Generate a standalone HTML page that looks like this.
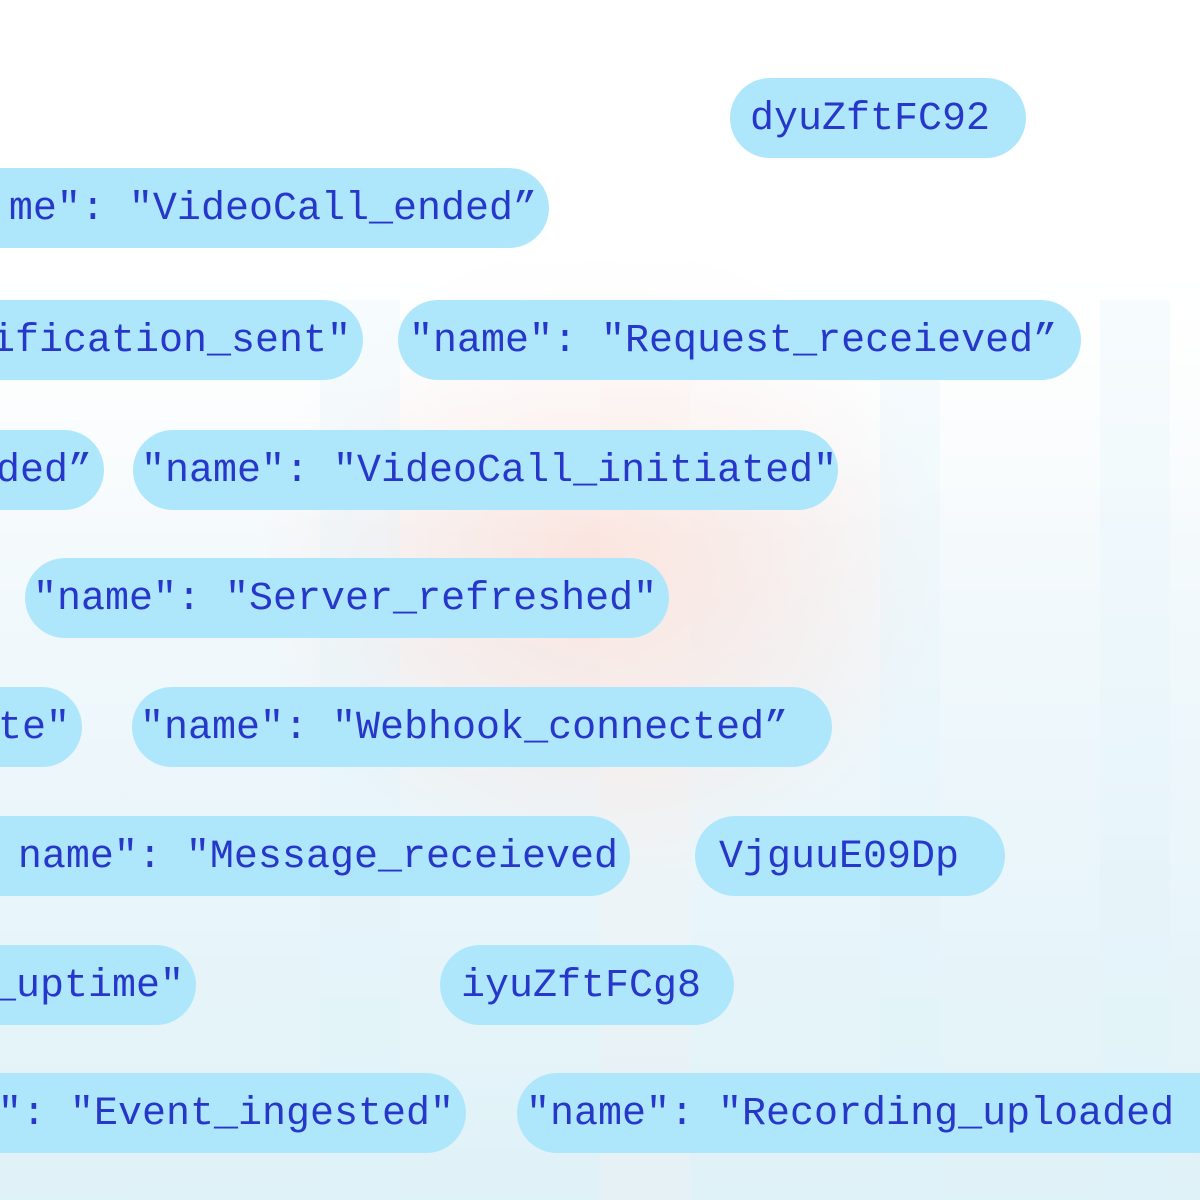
<!DOCTYPE html>
<html><head><meta charset="utf-8"><style>
html,body{margin:0;padding:0}
body{width:1200px;height:1200px;position:relative;overflow:hidden;background:#fff;font-family:"Liberation Mono","DejaVu Sans Mono",monospace}
.bg{position:absolute;inset:0;background:
linear-gradient(180deg,rgba(255,255,255,1) 0%,rgba(255,255,255,0.9) 18%,rgba(255,255,255,0) 45%),
radial-gradient(ellipse 500px 450px at 600px 560px,rgba(252,222,214,0.8),rgba(252,222,214,0) 70%),
linear-gradient(180deg,#fff 20%,#eef7fb 60%,#dff2f8 100%);}
.band{position:absolute;top:300px;bottom:0;background:rgba(225,243,250,0.25)}
.p{position:absolute;height:80px;border-radius:40px;background:#aee7fb;color:#2637c9;font-size:40px;line-height:80px;white-space:pre;display:flex;align-items:center;box-sizing:border-box;padding-top:3px}
.l{padding-left:14px}
.r{justify-content:flex-end;padding-right:12px;overflow:hidden}
</style></head><body>
<div class="bg"></div>
<div class="band" style="left:320px;width:80px"></div>
<div class="band" style="left:600px;width:90px;background:rgba(255,240,236,0.2)"></div>
<div class="band" style="left:880px;width:60px"></div>
<div class="band" style="left:1100px;width:70px"></div>

<div class="p l" style="left:730px;top:78px;width:296px;padding-left:20px">dyuZftFC92</div>

<div class="p r" style="left:-200px;top:168px;width:749px">me": "VideoCall_ended”</div>

<div class="p r" style="left:-200px;top:300px;width:563px">rification_sent"</div>
<div class="p l" style="left:398px;top:300px;width:683px;padding-left:11px">"name": "Request_receieved”</div>

<div class="p r" style="left:-200px;top:430px;width:304px">ded”</div>
<div class="p l" style="left:133px;top:430px;width:705px;padding-left:8px">"name": "VideoCall_initiated"</div>

<div class="p l" style="left:25px;top:558px;width:644px;padding-left:8px">"name": "Server_refreshed"</div>

<div class="p r" style="left:-200px;top:687px;width:282px">te"</div>
<div class="p l" style="left:132px;top:687px;width:700px;padding-left:8px">"name": "Webhook_connected”</div>

<div class="p r" style="left:-200px;top:816px;width:830px">name": "Message_receieved</div>
<div class="p l" style="left:695px;top:816px;width:310px;padding-left:24px">VjguuE09Dp</div>

<div class="p r" style="left:-200px;top:945px;width:396px">_uptime"</div>
<div class="p l" style="left:440px;top:945px;width:294px;padding-left:21px">iyuZftFCg8</div>

<div class="p r" style="left:-200px;top:1073px;width:666px">": "Event_ingested"</div>
<div class="p l" style="left:517px;top:1073px;width:720px;padding-left:9px">"name": "Recording_uploaded</div>
</body></html>
